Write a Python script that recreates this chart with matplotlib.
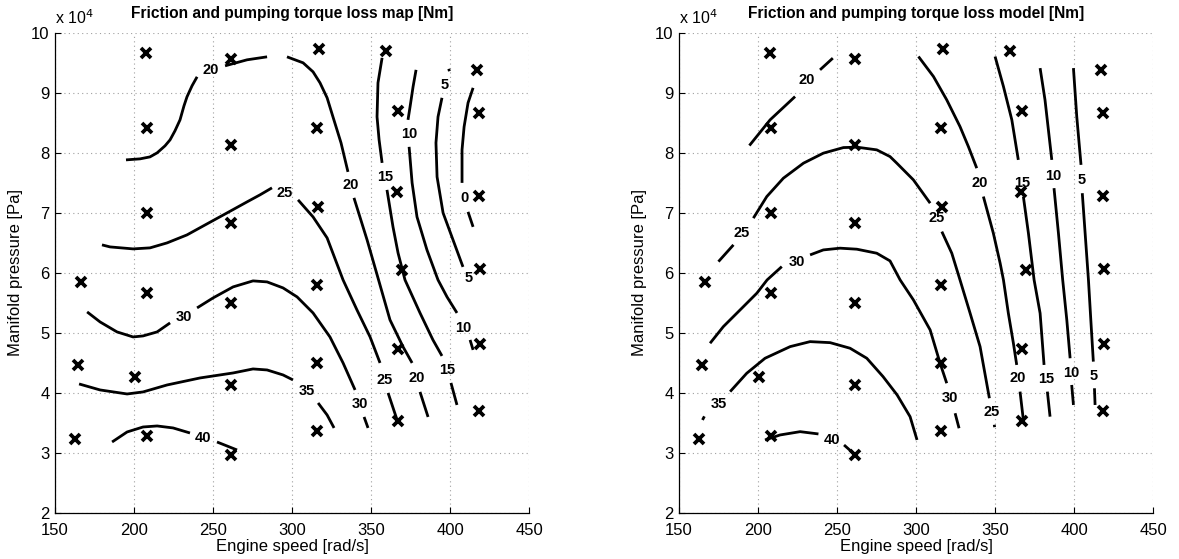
import numpy as np
import matplotlib
matplotlib.use("Agg")
import matplotlib.pyplot as plt
from matplotlib.ticker import FuncFormatter

plt.rcParams['font.family'] = ['Liberation Sans', 'DejaVu Sans']

nan = np.nan

# ---- measured operating points (engine speed [rad/s], manifold pressure [1e4 Pa]) ----
pts_speed = [166.5, 208, 261.4, 164.6, 200.6, 261.4, 162.7, 208, 261.4,
             207.6, 208, 261.4, 261.4, 208, 261.4, 317, 359.3, 416.9,
             315.6, 366.9, 418.4, 366.6, 316.2, 418.4, 419, 369.4, 315.6,
             419, 366.9, 316, 366.9, 418.4, 315.6]
pts_press = [5.85, 5.67, 5.5, 4.47, 4.27, 4.13, 3.23, 3.28, 2.97,
             9.67, 8.42, 9.57, 8.13, 7.0, 6.83, 9.73, 9.69, 9.38,
             8.41, 8.7, 8.66, 7.34, 7.09, 7.28, 6.06, 6.05, 5.8,
             4.81, 4.73, 4.5, 3.54, 3.7, 3.36]

# ---- left panel: map contours (NaN separates label gaps) ----
map20_x = [194.9, 203.8, 210.1, 214.6, 219.6, 222.8, 225.9, 229.1, 231.6, 233.5, 236.7, 239.9, nan,
           257.6, 271.5, 284.2, nan,
           296.8, 307.0, 313.3, 317.7, 322.2, 325.9, 331.0, 335.4, nan,
           339.2, 347.5, 354.4, 362.0, 370.3, 376.0, nan,
           381.0, 386.1]
map20_y = [7.883, 7.90, 7.933, 8.00, 8.117, 8.217, 8.367, 8.55, 8.783, 8.933, 9.117, 9.267, nan,
           9.45, 9.55, 9.60, nan,
           9.60, 9.50, 9.35, 9.167, 8.917, 8.60, 8.167, 7.683, nan,
           7.25, 6.55, 5.917, 5.217, 4.767, 4.50, nan,
           4.017, 3.60]
map25_x = [179.7, 184.8, 199.4, 210.1, 220.9, 233.5, 246.2, 258.9, 271.5, 279.7, 287.3, nan,
           303.8, 313.3, 322.2, 332.3, 341.1, 349.4, 355.7, nan,
           360.8, 366.5]
map25_y = [6.467, 6.433, 6.40, 6.417, 6.50, 6.633, 6.817, 7.00, 7.183, 7.30, 7.417, nan,
           7.217, 6.933, 6.583, 5.883, 5.383, 4.933, 4.50, nan,
           4.00, 3.55]
map15_x = [357.0, 354.4, 353.8, 355.1, 357.0, nan,
           360.1, 363.9, 367.1, 371.5, 381.0, 389.2, 394.9, nan,
           400.6, 404.4]
map15_y = [9.583, 9.167, 8.60, 8.217, 7.833, nan,
           7.383, 6.767, 6.333, 5.883, 5.333, 4.883, 4.617, nan,
           4.167, 3.80]
map10_x = [378.5, 376.6, 374.7, 373.4, nan,
           374.1, 376.0, 379.1, 385.4, 392.4, 398.1, 404.4, nan,
           412.7, 414.6]
map10_y = [9.383, 9.10, 8.767, 8.55, nan,
           8.10, 7.50, 6.933, 6.383, 5.883, 5.60, 5.333, nan,
           4.883, 4.717]
map5_x = [399.2, 399.6, nan,
          394.9, 392.4, 391.1, 391.8, 395.6, 401.9, 408.2]
map5_y = [9.40, 9.36, nan,
          8.917, 8.60, 8.167, 7.60, 7.00, 6.55, 6.10]
map0_x = [414.6, 411.4, 408.9, 407.6, 407.6, nan,
          411.4, 414.6]
map0_y = [9.083, 8.833, 8.433, 8.05, 7.50, nan,
          7.017, 6.767]
map30_x = [170.3, 178.5, 189.2, 199.4, 205.7, 214.6, 222.8, nan,
           239.9, 250.0, 262.7, 275.3, 284.2, 294.3, 303.2, 313.3, 324.0, 332.3, 339.9, nan,
           345.6, 348.1]
map30_y = [5.35, 5.183, 5.017, 4.933, 4.95, 5.017, 5.167, nan,
           5.417, 5.583, 5.767, 5.867, 5.85, 5.75, 5.60, 5.333, 4.933, 4.50, 4.05, nan,
           3.60, 3.417]
map35_x = [165.2, 178.5, 195.6, 205.7, 220.9, 241.8, 262.7, 275.3, 284.2, 294.3, 300.6, nan,
           316.5, 322.2, 326.6]
map35_y = [4.15, 4.05, 3.983, 4.017, 4.133, 4.25, 4.333, 4.40, 4.383, 4.30, 4.217, nan,
           3.833, 3.633, 3.417]
map40_x = [186.1, 195.6, 205.7, 214.6, 224.7, 235.4, nan, 252.5, 265.2]
map40_y = [3.183, 3.35, 3.433, 3.45, 3.417, 3.333, nan, 3.183, 3.05]

map_lab_x = [248.7, 337.3, 379.1, 295.6, 358.9, 358.9, 398.1, 374.1, 408.2, 396.8, 412.0,
             408.9, 231.6, 343.0, 309.5, 243.7]
map_lab_y = [9.383, 7.467, 4.25, 7.333, 4.217, 7.60, 4.383, 8.317, 5.083, 9.133, 5.917,
             7.25, 5.267, 3.817, 4.033, 3.25]
map_lab_t = ['20', '20', '20', '25', '25', '15', '15', '10', '10', '5', '5',
             '0', '30', '30', '35', '40']

# ---- right panel: model contours ----
mod20_x = [194.5, 207.6, 223.4, nan, 239.2, 247.3, nan,
           301.5, 311.0, 319.4, 327.8, 333.1, 338.4, nan,
           342.6, 348.9, 353.2, 355.3, 358.4, 361.6, 363.7, nan,
           365.8, 367.9]
mod20_y = [8.122, 8.55, 8.938, nan, 9.383, 9.578, nan,
           9.605, 9.272, 8.883, 8.438, 8.105, 7.745, nan,
           7.272, 6.662, 6.162, 5.883, 5.328, 4.828, 4.467, nan,
           4.022, 3.55]
mod25_x = [174.9, 184.4, nan,
           197.0, 205.5, 216.0, 228.7, 241.3, 254.0, 262.5, 275.1, 283.5, 287.8, 298.3, 308.9, nan,
           316.3, 322.6, 327.8, 334.2, 340.5, 346.4, nan,
           349.5, 349.7]
mod25_y = [6.188, 6.467, nan,
           6.912, 7.272, 7.578, 7.828, 7.995, 8.088, 8.095, 8.05, 7.938, 7.828, 7.55, 7.162, nan,
           6.688, 6.328, 5.883, 5.328, 4.772, 3.912, nan,
           3.47, 3.43]
mod30_x = [169.6, 178.0, 188.6, 199.2, 205.7, 215.0, nan,
           232.9, 241.3, 251.9, 262.5, 275.1, 283.5, 289.9, 298.3, 308.9, 315.2, 319.4, nan,
           324.7, 327.2]
mod30_y = [4.828, 5.105, 5.383, 5.662, 5.883, 6.105, nan,
           6.30, 6.383, 6.412, 6.395, 6.328, 6.20, 5.883, 5.55, 5.05, 4.495, 4.162, nan,
           3.662, 3.412]
mod35_x = [164.8, 166.0, nan,
           182.3, 192.8, 204.4, 220.3, 232.9, 245.6, 258.2, 268.8, 279.1, 288.0, 296.2, 300.6]
mod35_y = [3.55, 3.61, nan,
           4.022, 4.328, 4.578, 4.772, 4.855, 4.838, 4.745, 4.578, 4.272, 3.967, 3.605, 3.217]
mod40_x = [204.4, 213.9, 226.6, 238.2, nan, 254.4, 260.3]
mod40_y = [3.217, 3.30, 3.355, 3.317, nan, 3.133, 2.995]
mod15_x = [350.0, 355.3, 360.6, 364.7, nan,
           367.9, 371.1, 374.7, 378.5, 381.0, nan,
           383.1, 384.8]
mod15_y = [9.605, 9.105, 8.55, 7.883, nan,
           7.272, 6.662, 5.883, 5.328, 4.467, nan,
           4.022, 3.605]
mod10_x = [378.5, 381.6, 385.9, nan,
           387.3, 390.1, 392.8, 395.4, 397.5, nan,
           398.5, 399.6]
mod10_y = [9.412, 8.883, 7.883, nan,
           7.412, 6.662, 5.883, 5.217, 4.578, nan,
           4.133, 3.80]
mod5_x = [399.6, 401.7, 404.4, nan,
          405.2, 407.0, 409.1, 410.6, 412.2, nan,
          412.9, 413.3]
mod5_y = [9.412, 8.605, 7.80, nan,
          7.328, 6.662, 5.883, 5.217, 4.522, nan,
          4.078, 3.80]

mod_lab_x = [230.8, 340.5, 364.1, 189.7, 313.1, 347.9, 224.5, 321.5, 174.9, 246.6,
             366.9, 382.1, 386.9, 397.9, 404.9, 412.2]
mod_lab_y = [9.217, 7.505, 4.245, 6.662, 6.912, 3.688, 6.188, 3.912, 3.812, 3.217,
             7.505, 4.228, 7.622, 4.338, 7.55, 4.288]
mod_lab_t = ['20', '20', '20', '25', '25', '25', '30', '30', '35', '40',
             '15', '15', '10', '10', '5', '5']

titles = ['Friction and pumping torque loss map [Nm]',
          'Friction and pumping torque loss model [Nm]']
x_ticks = [150, 200, 250, 300, 350, 400, 450]
y_ticks = [2, 3, 4, 5, 6, 7, 8, 9, 10]

map_lines = [(map20_x, map20_y), (map25_x, map25_y), (map15_x, map15_y), (map10_x, map10_y),
             (map5_x, map5_y), (map0_x, map0_y), (map30_x, map30_y), (map35_x, map35_y),
             (map40_x, map40_y)]
mod_lines = [(mod20_x, mod20_y), (mod25_x, mod25_y), (mod30_x, mod30_y), (mod35_x, mod35_y),
             (mod40_x, mod40_y), (mod15_x, mod15_y), (mod10_x, mod10_y), (mod5_x, mod5_y)]

fig = plt.figure(figsize=(11.79, 5.59), dpi=100)
axes = [fig.add_axes([0.0467, 0.0823, 0.402, 0.859]),
        fig.add_axes([0.576, 0.0823, 0.402, 0.859])]

panels = [(map_lines, map_lab_x, map_lab_y, map_lab_t),
          (mod_lines, mod_lab_x, mod_lab_y, mod_lab_t)]

for ax, (lines, lx, ly, lt), title in zip(axes, panels, titles):
    for xs, ys in lines:
        ax.plot(xs, ys, color='black', lw=2.0, solid_capstyle='butt',
                solid_joinstyle='round', zorder=3)
    for x, y, t in zip(lx, ly, lt):
        ax.text(x, y, t, ha='center', va='center', fontsize=10.5, fontweight='bold', zorder=4)
    ax.plot(pts_speed, pts_press, linestyle='none', marker='x', color='black',
            markersize=6.5, markeredgewidth=2.7, zorder=5)
    ax.set_xlim(150, 450)
    ax.set_ylim(2, 10)
    ax.set_xticks(x_ticks)
    ax.set_yticks(y_ticks)
    ax.yaxis.set_major_formatter(FuncFormatter(lambda v, p: f'{v:g}'))
    ax.grid(True, linestyle=(0, (1, 3)), color='#a0a0a0', lw=0.8)
    for s in ('top', 'right'):
        ax.spines[s].set_visible(False)
    for s in ('left', 'bottom'):
        ax.spines[s].set_linewidth(0.9)
    ax.tick_params(direction='in', length=4, width=0.8, labelsize=12, pad=4,
                   top=False, right=False)
    ax.tick_params(axis='x', pad=7)
    ax.set_xlabel('Engine speed [rad/s]', fontsize=12, labelpad=1)
    ax.set_ylabel('Manifold pressure [Pa]', fontsize=12, labelpad=6)
    ax.set_title(title, fontsize=11.2, fontweight='bold', pad=11)
    ax.text(0.0, 1.012, r'x 10$^4$', transform=ax.transAxes, fontsize=11.5,
            ha='left', va='bottom')

fig.savefig('out.png', dpi=100)
